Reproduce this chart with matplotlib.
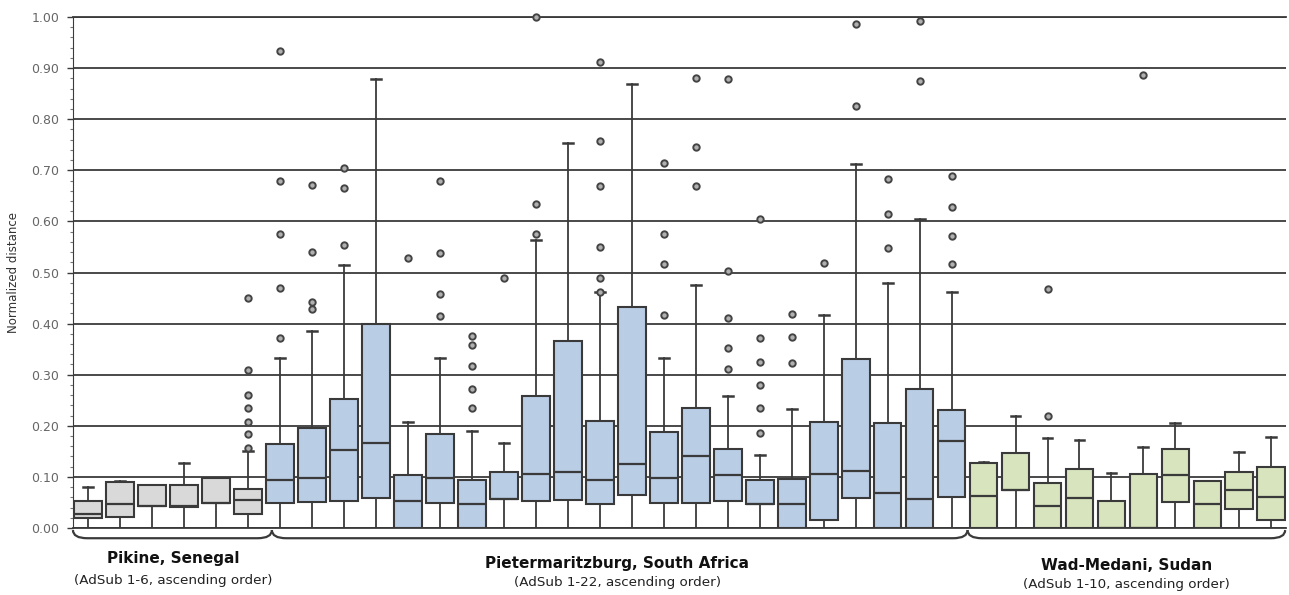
import matplotlib
matplotlib.use("Agg")
import matplotlib.pyplot as plt
from matplotlib.path import Path
from matplotlib.patches import PathPatch
from matplotlib.ticker import MultipleLocator, FormatStrFormatter

# Pikine, Senegal (AdSub 1-6)
pik_q1 = [0.020, 0.022, 0.044, 0.042, 0.048, 0.027]
pik_med = [0.027, 0.046, 0.044, 0.044, 0.048, 0.054]
pik_q3 = [0.053, 0.090, 0.085, 0.085, 0.098, 0.077]
pik_lo = [0, 0, 0, 0, 0, 0]
pik_hi = [0.080, 0.092, 0.085, 0.127, 0.098, 0.150]
pik_fliers = [[], [], [], [], [], [0.156, 0.183, 0.208, 0.234, 0.26, 0.31, 0.45]]

# Pietermaritzburg, South Africa (AdSub 1-22)
pmb_q1 = [0.048, 0.050, 0.052, 0.058, 0.0, 0.048, 0.0, 0.056, 0.052, 0.054, 0.046,
          0.065, 0.048, 0.048, 0.052, 0.047, 0.0, 0.015, 0.059, 0.0, 0.0, 0.060]
pmb_med = [0.093, 0.098, 0.153, 0.167, 0.052, 0.097, 0.047, 0.056, 0.106, 0.110, 0.094,
           0.125, 0.097, 0.140, 0.103, 0.047, 0.047, 0.105, 0.111, 0.069, 0.057, 0.171]
pmb_q3 = [0.164, 0.195, 0.252, 0.399, 0.103, 0.184, 0.093, 0.110, 0.258, 0.366, 0.210,
          0.432, 0.188, 0.235, 0.154, 0.093, 0.095, 0.208, 0.330, 0.205, 0.273, 0.230]
pmb_lo = [0] * 22
pmb_hi = [0.332, 0.386, 0.514, 0.878, 0.208, 0.332, 0.189, 0.167, 0.564, 0.754, 0.461,
          0.869, 0.332, 0.475, 0.259, 0.143, 0.232, 0.416, 0.712, 0.479, 0.604, 0.461]
pmb_fliers = [
    [0.371, 0.469, 0.575, 0.680, 0.933],
    [0.429, 0.443, 0.541, 0.672],
    [0.553, 0.665, 0.704],
    [],
    [0.529],
    [0.414, 0.458, 0.538, 0.680],
    [0.235, 0.272, 0.318, 0.359, 0.376],
    [0.490],
    [0.575, 0.634, 1.000],
    [],
    [0.461, 0.490, 0.549, 0.670, 0.758, 0.911],
    [],
    [0.416, 0.517, 0.575, 0.714],
    [0.670, 0.746, 0.880],
    [0.311, 0.352, 0.410, 0.502, 0.878],
    [0.186, 0.235, 0.279, 0.325, 0.371, 0.604],
    [0.323, 0.374, 0.418],
    [0.519],
    [0.826, 0.987],
    [0.547, 0.614, 0.683],
    [0.875, 0.992],
    [0.517, 0.572, 0.629, 0.689],
]

# Wad-Medani, Sudan (AdSub 1-10)
wad_q1 = [0.0, 0.074, 0.0, 0.0, 0.0, 0.0, 0.051, 0.0, 0.037, 0.015]
wad_med = [0.063, 0.074, 0.044, 0.058, 0.0, 0.0, 0.103, 0.047, 0.074, 0.060]
wad_q3 = [0.127, 0.146, 0.088, 0.115, 0.053, 0.105, 0.154, 0.092, 0.109, 0.120]
wad_lo = [0] * 10
wad_hi = [0.129, 0.219, 0.177, 0.173, 0.107, 0.159, 0.206, 0.092, 0.149, 0.178]
wad_fliers = [[], [], [0.219, 0.467], [], [], [0.887], [], [], [], []]

groups = [
    ("Pikine, Senegal", "(AdSub 1-6, ascending order)", "#d9d9d9",
     pik_q1, pik_med, pik_q3, pik_lo, pik_hi, pik_fliers),
    ("Pietermaritzburg, South Africa", "(AdSub 1-22, ascending order)", "#b9cde5",
     pmb_q1, pmb_med, pmb_q3, pmb_lo, pmb_hi, pmb_fliers),
    ("Wad-Medani, Sudan", "(AdSub 1-10, ascending order)", "#d7e4bd",
     wad_q1, wad_med, wad_q3, wad_lo, wad_hi, wad_fliers),
]

edge = "#3a3a3a"

fig = plt.figure(figsize=(12.89, 5.95), dpi=100)
ax = fig.add_axes([0.0566, 0.1126, 0.9414, 0.8588])

stats = []
colors = []
for name, sub, col, q1, med, q3, lo, hi, fl in groups:
    for i in range(len(q1)):
        stats.append(dict(q1=q1[i], med=med[i], q3=q3[i], whislo=lo[i],
                          whishi=hi[i], fliers=fl[i]))
        colors.append(col)

pos = list(range(1, len(stats) + 1))
bp = ax.bxp(stats, positions=pos, widths=0.87, capwidths=0.31, patch_artist=True,
            boxprops=dict(edgecolor=edge, linewidth=1.5),
            medianprops=dict(color=edge, linewidth=1.6),
            whiskerprops=dict(color=edge, linewidth=1.3),
            capprops=dict(color=edge, linewidth=1.8),
            flierprops=dict(marker="o", markersize=4.6, markerfacecolor="#b0b0b0",
                            markeredgecolor="#444444", markeredgewidth=1.4))
for patch, c in zip(bp["boxes"], colors):
    patch.set_facecolor(c)
    patch.set_zorder(3)
for m in bp["medians"]:
    m.set_zorder(4)
for f in bp["fliers"]:
    f.set_clip_on(False)
    f.set_zorder(4)

ax.set_xlim(0.53, 38.47)
ax.set_ylim(0, 1.0)
ax.set_xticks([])
ax.yaxis.set_major_locator(MultipleLocator(0.1))
ax.yaxis.set_minor_locator(MultipleLocator(0.02))
ax.yaxis.set_major_formatter(FormatStrFormatter("%.2f"))
ax.tick_params(axis="y", which="major", length=4, width=1, color=edge,
               labelsize=9, labelcolor="#666666", pad=6)
ax.tick_params(axis="y", which="minor", length=2, width=0.8, color="#777777")
for s in ["top", "right", "bottom"]:
    ax.spines[s].set_visible(False)
ax.spines["left"].set_color(edge)
ax.grid(axis="y", which="major", color="#3a3a3a", linewidth=1.3, zorder=0)
ax.set_axisbelow(True)
for y in [0.0, 1.0]:
    ax.axhline(y, color="#3a3a3a", linewidth=1.3, zorder=0.5, clip_on=False)
ax.set_ylabel("Normalized distance", fontsize=8.5, color="#333333", labelpad=8)

# braces under each group
bounds = [0.53, 6.75, 28.5, 38.43]
by, r = -0.02, 0.45
for k in range(len(groups)):
    xa, xb = bounds[k], bounds[k + 1]
    verts = [(xa, -0.004), (xa, by), (xa + r, by), (xb - r, by), (xb, by), (xb, -0.004)]
    codes = [Path.MOVETO, Path.CURVE3, Path.CURVE3, Path.LINETO, Path.CURVE3, Path.CURVE3]
    ax.add_patch(PathPatch(Path(verts, codes), facecolor="none", edgecolor=edge,
                           linewidth=1.6, clip_on=False, transform=ax.transData))

title_pos = [(0.1345, 0.062, 0.025), (0.479, 0.053, 0.021), (0.874, 0.049, 0.018)]
for (name, sub, *_rest), (fx, fy1, fy2) in zip(groups, title_pos):
    fig.text(fx, fy1, name, ha="center", va="center", fontsize=11,
             fontweight="bold", color="#111111")
    fig.text(fx, fy2, sub, ha="center", va="center", fontsize=9.7, color="#222222")

fig.savefig("out.png", dpi=100)
